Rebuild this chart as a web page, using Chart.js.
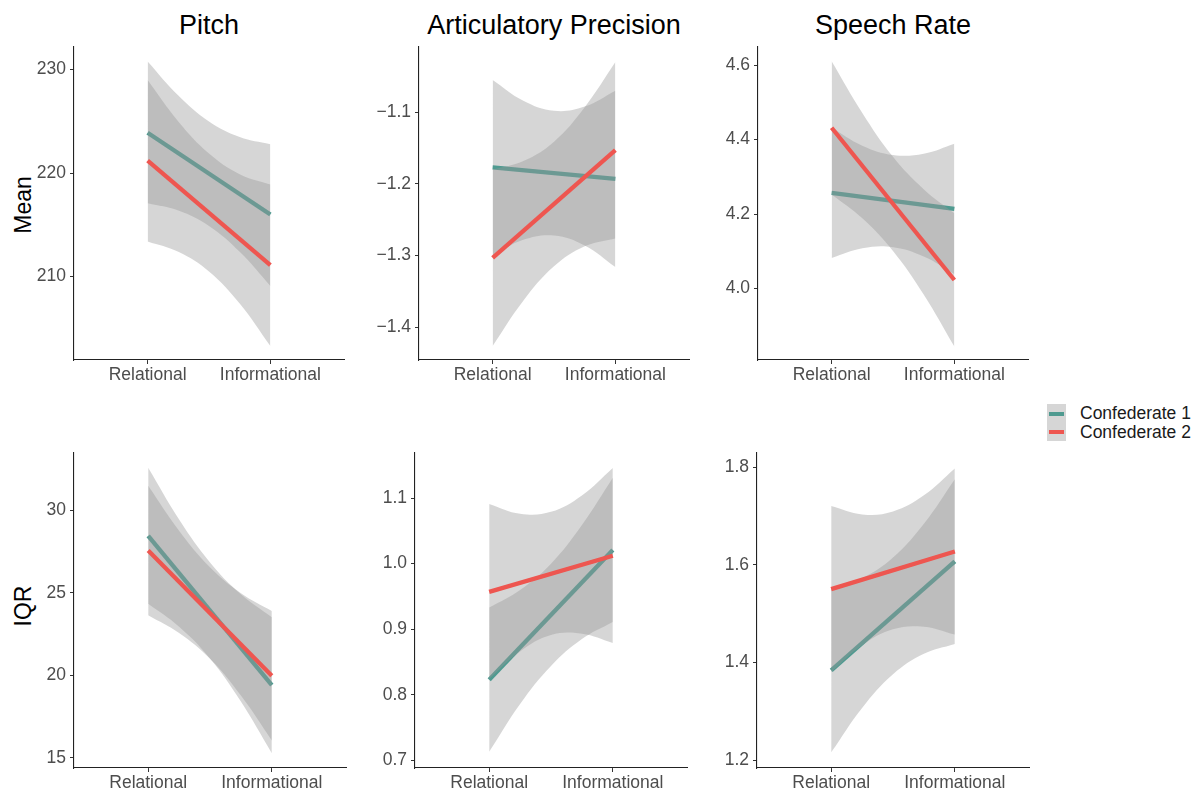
<!DOCTYPE html>
<html>
<head>
<meta charset="utf-8">
<title>Pitch, Articulatory Precision, Speech Rate</title>
<script src="https://cdn.jsdelivr.net/npm/chart.js@4.4.1/dist/chart.umd.min.js"></script>
<style>
    body { margin: 0; background: #fff; font-family: 'Liberation Sans', Arial, Helvetica, sans-serif; }
    #page { position: relative; width: 1201px; height: 789px; overflow: hidden; }
    .panel { position: absolute; }
    .title { position: absolute; width: 400px; text-align: center; font-size: 27px; line-height: 27px; color: #000; }
    .ylab { position: absolute; width: 120px; text-align: center; font-size: 23px; line-height: 22px; color: #000; transform: translate(-50%, -50%) rotate(-90deg); }
    .legend { position: absolute; left: 1047px; top: 404px; }
    .key-row { position: relative; height: 18.5px; }
    .key { position: absolute; left: 0; top: 0; width: 19px; height: 18.5px; background: #d6d6d6; }
    .key span { position: absolute; left: 2px; right: 2px; top: 7.5px; height: 4px; }
    .key-text { position: absolute; left: 33px; top: 0; font-size: 17.5px; line-height: 18.5px; color: #1a1a1a; white-space: nowrap; }
</style>
</head>
<body>
<div id="page">
    <div class="title" style="left: 9px; top: 12px;">Pitch</div>
    <div class="title" style="left: 354px; top: 12px;">Articulatory Precision</div>
    <div class="title" style="left: 693px; top: 12px;">Speech Rate</div>
    <div class="ylab" style="left: 23px; top: 205px;">Mean</div>
    <div class="ylab" style="left: 23px; top: 606px;">IQR</div>
    <div class="legend">
        <div class="key-row"><div class="key"><span style="background:#4f9a90"></span></div><div class="key-text">Confederate 1</div></div>
        <div class="key-row"><div class="key"><span style="background:#ee5650"></span></div><div class="key-text">Confederate 2</div></div>
    </div>
</div>
<script>
// x positions: the two conditions, plus the points where the ribbons were read
const groups = ['Relational', 'Informational'];
const bandX = [1, 1.25, 1.5, 1.75, 2];

// Pitch - Mean
const pitchMeanC1 = [223.9, 216.0];
const pitchMeanC1Hi = [230.8, 227.5, 225.0, 223.5, 222.8];
const pitchMeanC1Lo = [217.1, 216.4, 214.9, 212.4, 209.1];
const pitchMeanC2 = [221.2, 211.1];
const pitchMeanC2Hi = [229.0, 225.0, 221.9, 219.9, 218.9];
const pitchMeanC2Lo = [213.4, 212.4, 210.5, 207.4, 203.3];
const pitchMeanTicks = [210, 220, 230];
const pitchMeanLabels = ['210', '220', '230'];

// Articulatory Precision - Mean
const artMeanC1 = [-1.177, -1.193];
const artMeanC1Hi = [-1.055, -1.084, -1.098, -1.092, -1.070];
const artMeanC1Lo = [-1.300, -1.278, -1.272, -1.286, -1.316];
const artMeanC2 = [-1.303, -1.153];
const artMeanC2Hi = [-1.180, -1.168, -1.141, -1.093, -1.030];
const artMeanC2Lo = [-1.426, -1.363, -1.315, -1.287, -1.276];
const artMeanTicks = [-1.4, -1.3, -1.2, -1.1];
const artMeanLabels = ['\u22121.4', '\u22121.3', '\u22121.2', '\u22121.1'];

// Speech Rate - Mean
const rateMeanC1 = [4.257, 4.214];
const rateMeanC1Hi = [4.432, 4.384, 4.359, 4.362, 4.389];
const rateMeanC1Lo = [4.082, 4.108, 4.111, 4.086, 4.039];
const rateMeanC2 = [4.432, 4.023];
const rateMeanC2Hi = [4.611, 4.472, 4.354, 4.267, 4.202];
const rateMeanC2Lo = [4.253, 4.189, 4.101, 3.984, 3.844];
const rateMeanTicks = [4.0, 4.2, 4.4, 4.6];
const rateMeanLabels = ['4.0', '4.2', '4.4', '4.6'];

// Pitch - IQR
const pitchIqrC1 = [28.46, 19.41];
const pitchIqrC1Hi = [32.58, 29.45, 26.85, 24.92, 23.53];
const pitchIqrC1Lo = [24.34, 22.95, 21.03, 18.42, 15.29];
const pitchIqrC2 = [27.57, 19.98];
const pitchIqrC2Hi = [31.49, 28.77, 26.55, 24.98, 23.90];
const pitchIqrC2Lo = [23.65, 22.57, 21.01, 18.78, 16.06];
const pitchIqrTicks = [15, 20, 25, 30];
const pitchIqrLabels = ['15', '20', '25', '30'];

// Articulatory Precision - IQR
const artIqrC1 = [0.823, 1.021];
const artIqrC1Hi = [0.933, 0.960, 1.000, 1.059, 1.131];
const artIqrC1Lo = [0.713, 0.786, 0.844, 0.885, 0.911];
const artIqrC2 = [0.957, 1.012];
const artIqrC2Hi = [1.091, 1.076, 1.079, 1.104, 1.146];
const artIqrC2Lo = [0.824, 0.866, 0.891, 0.893, 0.879];
const artIqrTicks = [0.7, 0.8, 0.9, 1.0, 1.1];
const artIqrLabels = ['0.7', '0.8', '0.9', '1.0', '1.1'];

// Speech Rate - IQR
const rateIqrC1 = [1.384, 1.607];
const rateIqrC1Hi = [1.553, 1.573, 1.615, 1.684, 1.775];
const rateIqrC1Lo = [1.216, 1.307, 1.376, 1.418, 1.438];
const rateIqrC2 = [1.550, 1.627];
const rateIqrC2Hi = [1.720, 1.703, 1.709, 1.742, 1.797];
const rateIqrC2Lo = [1.380, 1.435, 1.468, 1.473, 1.457];
const rateIqrTicks = [1.2, 1.4, 1.6, 1.8];
const rateIqrLabels = ['1.2', '1.4', '1.6', '1.8'];

const TEAL = '#4f9a90';
const RED = '#ee5650';
const RIBBON = 'rgba(153,153,153,0.4)';
const FONT = "'Liberation Sans', Arial, Helvetica, sans-serif";

document.addEventListener('DOMContentLoaded', () => {
    const page = document.getElementById('page');

    const Y_AXIS_W = 70;
    const X_AXIS_H = 40;
    const PAD = 20; // room above the plot so the top tick label doesn't push the area down

    const toPoints = (xs, ys) => ys.map((y, i) => ({ x: xs[i], y }));

    const ribbon = (values, fillTarget, order) => ({
        data: toPoints(bandX, values),
        borderWidth: 0,
        borderColor: 'transparent',
        backgroundColor: RIBBON,
        pointRadius: 0,
        tension: 0.4,
        fill: fillTarget,
        order
    });

    const fitLine = (values, color, order) => ({
        data: toPoints([1, 2], values),
        borderColor: color,
        borderWidth: 4.3,
        borderCapStyle: 'butt',
        pointRadius: 0,
        fill: false,
        order
    });

    const axisStyle = {
        grid: { display: true, drawOnChartArea: false, drawTicks: true, tickLength: 4, color: '#333', lineWidth: 1 },
        border: { display: true, color: '#222', width: 1.1 },
    };

    const makePanel = (p) => {
        const canvas = document.createElement('canvas');
        const w = Y_AXIS_W + p.plotW + PAD;
        const h = PAD + p.plotH + X_AXIS_H;
        canvas.width = w;
        canvas.height = h;
        canvas.className = 'panel';
        canvas.style.left = (p.axisX - Y_AXIS_W) + 'px';
        canvas.style.top = (p.plotTop - PAD) + 'px';
        canvas.style.width = w + 'px';
        canvas.style.height = h + 'px';
        page.appendChild(canvas);

        new Chart(canvas.getContext('2d'), {
            type: 'line',
            data: {
                datasets: [
                    // drawn bottom to top: C1 ribbon, C1 line, C2 ribbon, C2 line
                    ribbon(p.c1Hi, 1, 4),
                    ribbon(p.c1Lo, false, 4),
                    fitLine(p.c1, TEAL, 3),
                    ribbon(p.c2Hi, 4, 2),
                    ribbon(p.c2Lo, false, 2),
                    fitLine(p.c2, RED, 1)
                ]
            },
            options: {
                responsive: false,
                animation: false,
                devicePixelRatio: 1,
                layout: { padding: { top: PAD, right: PAD, left: 0, bottom: 0 } },
                plugins: { legend: { display: false }, tooltip: { enabled: false } },
                scales: {
                    x: {
                        type: 'linear',
                        min: 0.4,
                        max: 2.6,
                        ...axisStyle,
                        afterBuildTicks: (scale) => { scale.ticks = [{ value: 1 }, { value: 2 }]; },
                        afterFit: (scale) => { scale.height = X_AXIS_H; },
                        ticks: {
                            autoSkip: false,
                            maxRotation: 0,
                            padding: 1,
                            color: '#4d4d4d',
                            font: { family: FONT, size: 17.5 },
                            callback: (v) => groups[Math.round(v) - 1]
                        }
                    },
                    y: {
                        type: 'linear',
                        min: p.yMin,
                        max: p.yMax,
                        ...axisStyle,
                        afterBuildTicks: (scale) => { scale.ticks = p.ticks.map(v => ({ value: v })); },
                        afterFit: (scale) => { scale.width = Y_AXIS_W; },
                        ticks: {
                            autoSkip: false,
                            padding: 4,
                            color: '#4d4d4d',
                            font: { family: FONT, size: 17.5 },
                            callback: (v, i) => p.labels[i]
                        }
                    }
                }
            }
        });
    };

    const panels = [
        { axisX: 74, plotTop: 47, plotW: 270, plotH: 313, yMin: 201.94, yMax: 232.19,
          c1: pitchMeanC1, c1Hi: pitchMeanC1Hi, c1Lo: pitchMeanC1Lo, c2: pitchMeanC2, c2Hi: pitchMeanC2Hi, c2Lo: pitchMeanC2Lo,
          ticks: pitchMeanTicks, labels: pitchMeanLabels },
        { axisX: 419, plotTop: 47, plotW: 270, plotH: 313, yMin: -1.4456, yMax: -1.009,
          c1: artMeanC1, c1Hi: artMeanC1Hi, c1Lo: artMeanC1Lo, c2: artMeanC2, c2Hi: artMeanC2Hi, c2Lo: artMeanC2Lo,
          ticks: artMeanTicks, labels: artMeanLabels },
        { axisX: 758, plotTop: 47, plotW: 270, plotH: 313, yMin: 3.808, yMax: 4.649,
          c1: rateMeanC1, c1Hi: rateMeanC1Hi, c1Lo: rateMeanC1Lo, c2: rateMeanC2, c2Hi: rateMeanC2Hi, c2Lo: rateMeanC2Lo,
          ticks: rateMeanTicks, labels: rateMeanLabels },
        { axisX: 74, plotTop: 453, plotW: 272, plotH: 315, yMin: 14.39, yMax: 33.48,
          c1: pitchIqrC1, c1Hi: pitchIqrC1Hi, c1Lo: pitchIqrC1Lo, c2: pitchIqrC2, c2Hi: pitchIqrC2Hi, c2Lo: pitchIqrC2Lo,
          ticks: pitchIqrTicks, labels: pitchIqrLabels },
        { axisX: 415, plotTop: 453, plotW: 272, plotH: 315, yMin: 0.6883, yMax: 1.1688,
          c1: artIqrC1, c1Hi: artIqrC1Hi, c1Lo: artIqrC1Lo, c2: artIqrC2, c2Hi: artIqrC2Hi, c2Lo: artIqrC2Lo,
          ticks: artIqrTicks, labels: artIqrLabels },
        { axisX: 757, plotTop: 453, plotW: 272, plotH: 315, yMin: 1.184, yMax: 1.8287,
          c1: rateIqrC1, c1Hi: rateIqrC1Hi, c1Lo: rateIqrC1Lo, c2: rateIqrC2, c2Hi: rateIqrC2Hi, c2Lo: rateIqrC2Lo,
          ticks: rateIqrTicks, labels: rateIqrLabels }
    ];

    panels.forEach(makePanel);
});
</script>
</body>
</html>
